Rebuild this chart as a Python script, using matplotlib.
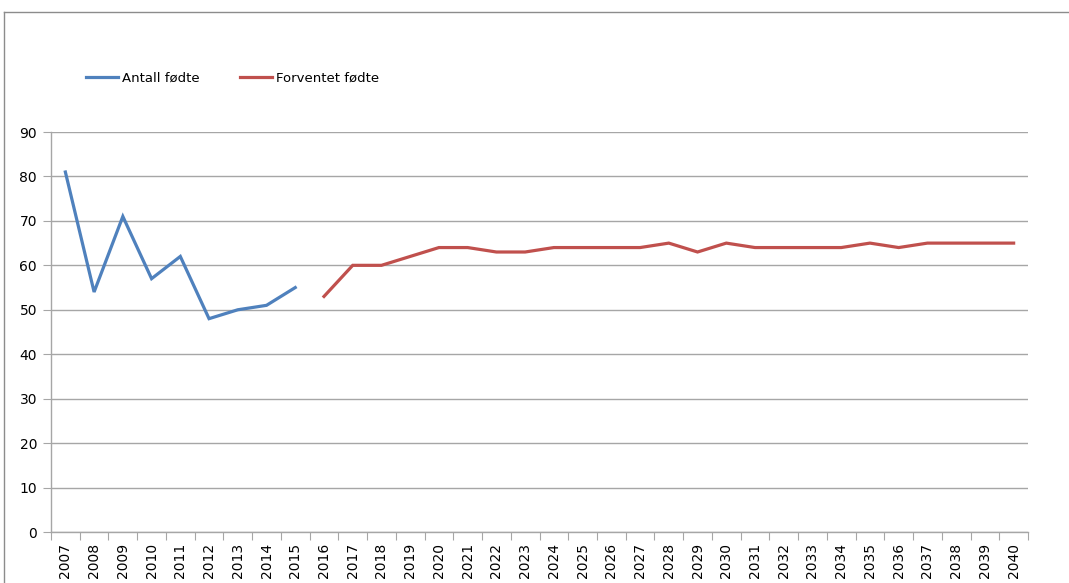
import matplotlib.pyplot as plt
from matplotlib.lines import Line2D
from matplotlib.ticker import FixedLocator

# Data
years = list(range(2007, 2041))
antall_years = years[:9]
antall = [81, 54, 71, 57, 62, 48, 50, 51, 55]
forventet_years = years[9:]
forventet = [53, 60, 60, 62, 64, 64, 63, 63, 64, 64, 64, 64, 65, 63, 65,
             64, 64, 64, 64, 65, 64, 65, 65, 65, 65]

BLUE = "#4F81BD"
RED = "#C0504D"
GRID = "#A6A6A6"

W, H = 1069, 583
fig = plt.figure(figsize=(W / 100, H / 100), dpi=100)
ax = fig.add_axes([51 / W, 1 - 532 / H, (1028 - 51) / W, (532 - 132) / H])

idx = {y: i for i, y in enumerate(years)}
xa = [idx[y] for y in antall_years]
xf = [idx[y] for y in forventet_years]

ax.plot(xa, antall, color=BLUE, lw=2.3, solid_joinstyle="miter", label="Antall fødte")
ax.plot(xf, forventet, color=RED, lw=2.3, solid_joinstyle="miter", label="Forventet fødte")

ax.set_xlim(-0.5, len(years) - 0.5)
ax.set_ylim(0, 90)
ax.set_yticks(range(0, 91, 10))
ax.yaxis.grid(True, color=GRID, lw=1)
ax.set_axisbelow(True)

# category boundaries as major ticks, labels at centres
ax.xaxis.set_major_locator(FixedLocator([i - 0.5 for i in range(len(years) + 1)]))
ax.xaxis.set_major_formatter(plt.NullFormatter())
ax.xaxis.set_minor_locator(FixedLocator(range(len(years))))
ax.set_xticklabels([str(y) for y in years], minor=True, rotation=90, fontsize=10)
ax.tick_params(axis="x", which="major", length=6, color=GRID, direction="out")
ax.tick_params(axis="x", which="minor", length=0, pad=8)
ax.tick_params(axis="y", length=6, color=GRID, labelsize=10, pad=4)

for s in ["top", "right"]:
    ax.spines[s].set_visible(False)
for s in ["left", "bottom"]:
    ax.spines[s].set_color(GRID)
    ax.spines[s].set_linewidth(1)

fig.legend(loc="center left", bbox_to_anchor=(74 / W, 1 - 78 / H), ncol=2,
           frameon=False, handlelength=2.4, handletextpad=0.3,
           columnspacing=3.1, prop={"size": 9.5})

# outer chart frame
fig.add_artist(Line2D([4 / W, 1.0], [1 - 12 / H, 1 - 12 / H], color="#8C8C8C", lw=1))
fig.add_artist(Line2D([4 / W, 4 / W], [0.0, 1 - 12 / H], color="#8C8C8C", lw=1))

fig.savefig("out.png", dpi=100)
